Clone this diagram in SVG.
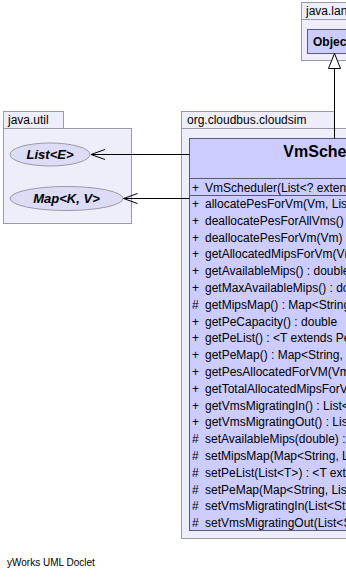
<svg xmlns="http://www.w3.org/2000/svg" width="346" height="577" viewBox="0 0 346 577">
  <style>
    text { font-family: "Liberation Sans", Arial, sans-serif; fill: #000; }
    .pkg { fill: #eeeefa; stroke: #9a9aa6; stroke-width: 1; }
    .pkgname { font-size: 12px; }
    .cls { fill: #ccccff; stroke: #5a5a6a; stroke-width: 1; }
    .sep { stroke: #5a5a6a; stroke-width: 1; }
    .iface { fill: #dcdcf6; stroke: #9a9aa6; stroke-width: 1; }
    .iname { font-size: 13px; font-weight: bold; font-style: italic; text-anchor: middle; }
    .member { font-size: 12px; }
    .vis { font-size: 12px; }
    .edge { stroke: #000; stroke-width: 1; fill: none; }
    .head { stroke: #000; stroke-width: 1; fill: none; }
    .inh { stroke: #000; stroke-width: 1; fill: #fff; }
  </style>

  <rect width="346" height="577" fill="#fff"/>

  <!-- package java.lang -->
  <g id="pkg-java-lang">
    <rect class="pkg" x="301.5" y="2.5" width="60" height="17"/>
    <text class="pkgname" x="306" y="15">java.lang</text>
    <rect class="pkg" x="301.5" y="19.5" width="80" height="41"/>
  </g>

  <!-- package java.util -->
  <g id="pkg-java-util">
    <rect class="pkg" x="3.5" y="111.5" width="60" height="17"/>
    <text class="pkgname" x="8" y="124">java.util</text>
    <rect class="pkg" x="3.5" y="128.5" width="128" height="95"/>
  </g>

  <!-- package org.cloudbus.cloudsim -->
  <g id="pkg-cloudsim">
    <rect class="pkg" x="181.5" y="111.5" width="153" height="17"/>
    <text class="pkgname" x="187" y="124">org.cloudbus.cloudsim</text>
    <rect class="pkg" x="181.5" y="128.5" width="320" height="410"/>
  </g>

  <!-- class Object -->
  <g id="Object">
    <rect class="cls" x="307.5" y="29.5" width="54" height="24"/>
    <text x="313" y="46" font-size="12" font-weight="bold">Object</text>
  </g>

  <!-- interface List<E> -->
  <g id="List">
    <ellipse class="iface" cx="50" cy="154.5" rx="40" ry="11.5"/>
    <text class="iname" x="50" y="159">List&lt;E&gt;</text>
  </g>

  <!-- interface Map<K, V> -->
  <g id="Map">
    <ellipse class="iface" cx="66.5" cy="198.5" rx="56.5" ry="12"/>
    <text class="iname" x="66.5" y="203">Map&lt;K, V&gt;</text>
  </g>

  <!-- class VmScheduler -->
  <g id="VmScheduler">
    <rect class="cls" x="189.5" y="138.5" width="290" height="392"/>
    <text x="334.5" y="157" font-size="16" font-weight="bold" text-anchor="middle">VmScheduler</text>
    <line class="sep" x1="189.5" y1="178.5" x2="479.5" y2="178.5"/>
    <text class="vis" x="192" y="192">+</text>
    <text class="member" x="205" y="192">VmScheduler(List&lt;? extends</text>
    <line class="sep" x1="189.5" y1="195.5" x2="479.5" y2="195.5"/>

    <text class="vis" x="192" y="208">+</text><text class="member" x="205" y="208">allocatePesForVm(Vm, List</text>
    <text class="vis" x="192" y="224.8">+</text><text class="member" x="205" y="224.8">deallocatePesForAllVms() : void</text>
    <text class="vis" x="192" y="241.6">+</text><text class="member" x="205" y="241.6">deallocatePesForVm(Vm) : void</text>
    <text class="vis" x="192" y="258.4">+</text><text class="member" x="205" y="258.4">getAllocatedMipsForVm(Vm)</text>
    <text class="vis" x="192" y="275.2">+</text><text class="member" x="205" y="275.2">getAvailableMips() : double</text>
    <text class="vis" x="192" y="292">+</text><text class="member" x="205" y="292">getMaxAvailableMips() : double</text>
    <text class="vis" x="192" y="308.8">#</text><text class="member" x="205" y="308.8">getMipsMap() : Map&lt;String,</text>
    <text class="vis" x="192" y="325.6">+</text><text class="member" x="205" y="325.6">getPeCapacity() : double</text>
    <text class="vis" x="192" y="342.4">+</text><text class="member" x="205" y="342.4">getPeList() : &lt;T extends Pe&gt;</text>
    <text class="vis" x="192" y="359.2">+</text><text class="member" x="205" y="359.2">getPeMap() : Map&lt;String, List</text>
    <text class="vis" x="192" y="376">+</text><text class="member" x="205" y="376">getPesAllocatedForVM(Vm)</text>
    <text class="vis" x="192" y="392.8">+</text><text class="member" x="205" y="392.8">getTotalAllocatedMipsForVm</text>
    <text class="vis" x="192" y="409.6">+</text><text class="member" x="205" y="409.6">getVmsMigratingIn() : List&lt;</text>
    <text class="vis" x="192" y="426.4">+</text><text class="member" x="205" y="426.4">getVmsMigratingOut() : List</text>
    <text class="vis" x="192" y="443.2">#</text><text class="member" x="205" y="443.2">setAvailableMips(double) : void</text>
    <text class="vis" x="192" y="460">#</text><text class="member" x="205" y="460">setMipsMap(Map&lt;String, Li</text>
    <text class="vis" x="192" y="476.8">#</text><text class="member" x="205" y="476.8">setPeList(List&lt;T&gt;) : &lt;T exte</text>
    <text class="vis" x="192" y="493.6">#</text><text class="member" x="205" y="493.6">setPeMap(Map&lt;String, List</text>
    <text class="vis" x="192" y="510.4">#</text><text class="member" x="205" y="510.4">setVmsMigratingIn(List&lt;Stri</text>
    <text class="vis" x="192" y="527.2">#</text><text class="member" x="205" y="527.2">setVmsMigratingOut(List&lt;St</text>
  </g>

  <!-- connectors -->
  <g id="connectors">
    <!-- VmScheduler extends Object -->
    <line class="edge" x1="334.5" y1="68" x2="334.5" y2="138.5"/>
    <polygon class="inh" points="334.5,53.5 328.5,68.5 340.5,68.5"/>
    <!-- VmScheduler uses List -->
    <line class="edge" x1="189.5" y1="154.5" x2="91" y2="154.5"/>
    <polyline class="head" points="105,149.5 91,154.5 105,159.5"/>
    <!-- VmScheduler uses Map -->
    <line class="edge" x1="189.5" y1="198.5" x2="123.5" y2="198.5"/>
    <polyline class="head" points="137.5,193.5 123.5,198.5 137.5,203.5"/>
  </g>

  <text x="7" y="566" font-size="10">yWorks UML Doclet</text>
</svg>
